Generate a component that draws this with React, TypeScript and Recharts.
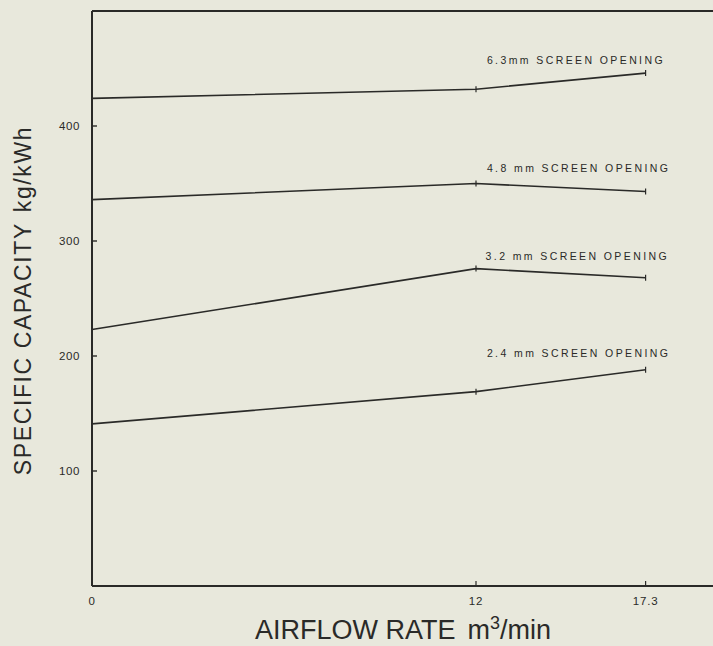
import { LineChart, Line, XAxis, YAxis, ReferenceLine, ReferenceDot } from 'recharts'

// airflow rates (m3/min)
const airflow = [0, 12, 17.3]

// specific capacity kg/kWh, one list per screen opening
const cap63 = [424, 432, 446]
const cap48 = [336, 350, 343]
const cap32 = [223, 276, 268]
const cap24 = [141, 169, 188]

const yTicks = [100, 200, 300, 400]
const xTicks = [0, 12, 17.3]

// series captions, anchored in data space (left end of text)
const captionX = [12.34, 12.34, 12.3, 12.34]
const captionY = [457, 363, 287, 202]
const captionText = [
  '6.3mm SCREEN OPENING',
  '4.8 mm SCREEN OPENING',
  '3.2 mm SCREEN OPENING',
  '2.4 mm SCREEN OPENING',
]

const data = airflow.map((x, i) => ({
  x,
  s63: cap63[i],
  s48: cap48[i],
  s32: cap32[i],
  s24: cap24[i],
}))

const INK = '#2a2a28'
const BG = '#e8e8dc'
const SANS = '"Liberation Sans", Arial, sans-serif'

const TickDot = (props: any) => {
  const { cx, cy, index } = props
  if (index === 0) return <g key={`d${index}`} />
  return <line key={`d${index}`} x1={cx} x2={cx} y1={cy - 3} y2={cy + 3} stroke={INK} strokeWidth={1.2} />
}

const YTick = (props: any) => {
  const { x, y, payload } = props
  return (
    <g>
      <line x1={x + 12} x2={x + 17} y1={y} y2={y} stroke={INK} strokeWidth={1.4} />
      <text x={x} y={y} dy="0.35em" textAnchor="end" fontSize={11.5} fill={INK} fontFamily={SANS} letterSpacing={0.6}>
        {payload.value}
      </text>
    </g>
  )
}

const XTick = (props: any) => {
  const { x, y, payload } = props
  return (
    <g>
      {payload.value !== 0 && <line x1={x} x2={x} y1={y - 11} y2={y - 16} stroke={INK} strokeWidth={1.2} />}
      <text x={x} y={y} dy="0.71em" textAnchor="middle" fontSize={11.5} fill={INK} fontFamily={SANS} letterSpacing={0.8}>
        {payload.value}
      </text>
    </g>
  )
}

const XLabel = (props: any) => {
  const { viewBox } = props
  return (
    <text x={403} y={viewBox.y + 53} textAnchor="middle" fontSize={27} fill={INK} fontFamily={SANS}>
      AIRFLOW RATE
      <tspan dx={12}>m</tspan>
      <tspan fontSize={18} dy={-10}>3</tspan>
      <tspan dy={10}>/min</tspan>
    </text>
  )
}

const YLabel = (props: any) => {
  const { viewBox } = props
  const cx = 31
  const cy = viewBox.y + viewBox.height / 2 + 2
  return (
    <text
      x={cx}
      y={cy}
      transform={`rotate(-90 ${cx} ${cy})`}
      textAnchor="middle"
      fontSize={23}
      fill={INK}
      fontFamily={SANS}
      letterSpacing={1.6}
    >
      SPECIFIC CAPACITY
      <tspan dx={10}>kg/kWh</tspan>
    </text>
  )
}

export default function App() {
  return (
    <div
      style={{
        position: 'absolute',
        left: 0,
        top: 0,
        width: 713,
        height: 646,
        overflow: 'hidden',
        background: BG,
      }}
    >
      <LineChart width={760} height={646} data={data} margin={{ top: 11, right: 28, left: 0, bottom: 0 }}>
        <XAxis
          dataKey="x"
          type="number"
          domain={[0, 20]}
          ticks={xTicks}
          height={60}
          tickLine={false}
          tickSize={0}
          tickMargin={11}
          tick={<XTick />}
          axisLine={{ stroke: INK, strokeWidth: 2 }}
          label={<XLabel />}
        />
        <YAxis
          type="number"
          domain={[0, 500]}
          ticks={yTicks}
          width={92}
          tickLine={false}
          tickSize={0}
          tickMargin={12}
          tick={<YTick />}
          axisLine={{ stroke: INK, strokeWidth: 2 }}
          label={<YLabel />}
        />
        <ReferenceLine y={500} stroke={INK} strokeWidth={2} />
        <ReferenceLine x={20} stroke={INK} strokeWidth={2} />
        {['s63', 's48', 's32', 's24'].map((k) => (
          <Line
            key={k}
            type="linear"
            dataKey={k}
            stroke={INK}
            strokeWidth={1.6}
            dot={<TickDot />}
            isAnimationActive={false}
          />
        ))}
        {captionText.map((t, i) => (
          <ReferenceDot
            key={t}
            x={captionX[i]}
            y={captionY[i]}
            r={0}
            fill="none"
            stroke="none"
            label={{
              value: t,
              position: 'right',
              offset: 0,
              fontSize: 10.5,
              fill: INK,
              fontFamily: SANS,
              letterSpacing: 2.4,
            }}
          />
        ))}
      </LineChart>
    </div>
  )
}
